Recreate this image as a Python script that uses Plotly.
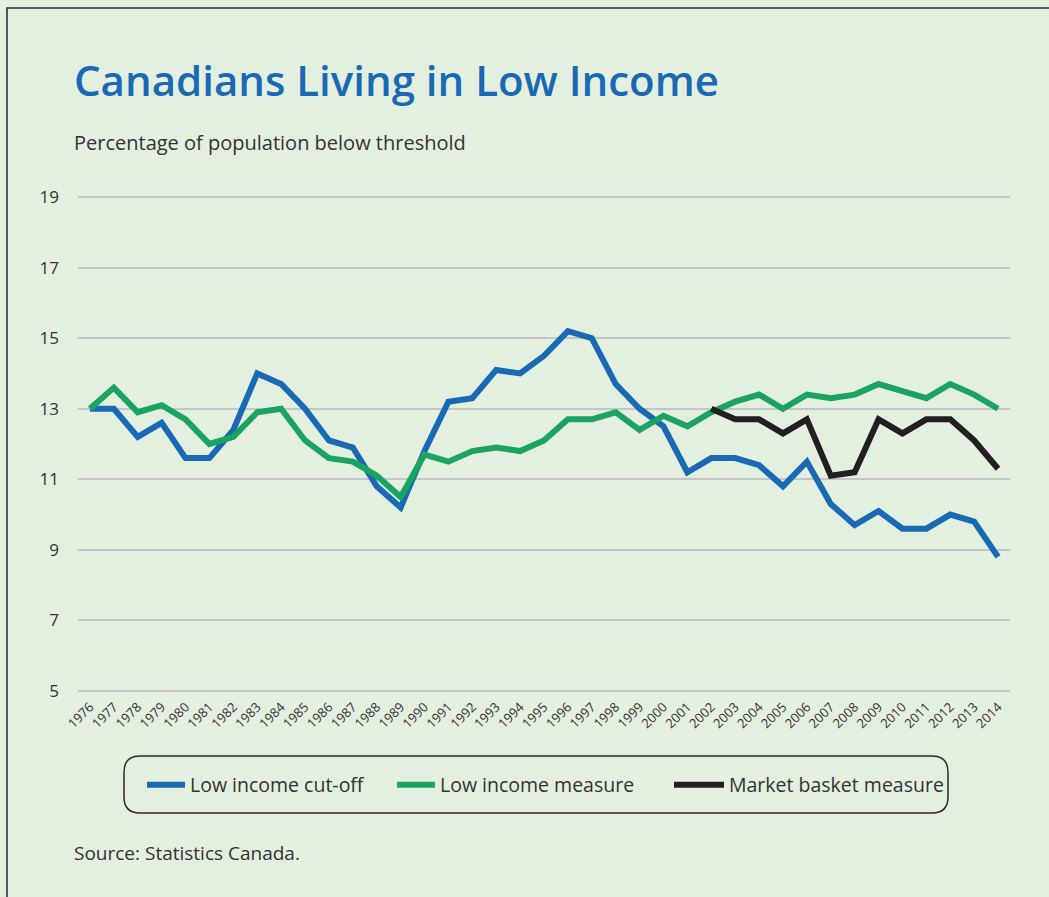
import plotly.graph_objects as go

years = list(range(1976, 2015))
lico = [13.0, 13.0, 12.2, 12.6, 11.6, 11.6, 12.4, 14.0, 13.7, 13.0,
        12.1, 11.9, 10.8, 10.2, 11.8, 13.2, 13.3, 14.1, 14.0, 14.5,
        15.2, 15.0, 13.7, 13.0, 12.5, 11.2, 11.6, 11.6, 11.4, 10.8,
        11.5, 10.3, 9.7, 10.1, 9.6, 9.6, 10.0, 9.8, 8.8]
lim = [13.0, 13.6, 12.9, 13.1, 12.7, 12.0, 12.2, 12.9, 13.0, 12.1,
       11.6, 11.5, 11.1, 10.5, 11.7, 11.5, 11.8, 11.9, 11.8, 12.1,
       12.7, 12.7, 12.9, 12.4, 12.8, 12.5, 12.9, 13.2, 13.4, 13.0,
       13.4, 13.3, 13.4, 13.7, 13.5, 13.3, 13.7, 13.4, 13.0]
mbm_years = list(range(2002, 2015))
mbm = [13.0, 12.7, 12.7, 12.3, 12.7, 11.1, 11.2, 12.7, 12.3, 12.7, 12.7, 12.1, 11.3]
y_ticks = [5, 7, 9, 11, 13, 15, 17, 19]

BG = "#E3EFDF"
BLUE = "#1A69B5"
GREEN = "#1BA461"
BLACK = "#231F20"
TXT = "#333333"
FONT = "Open Sans"

fig = go.Figure()
fig.add_trace(go.Scatter(x=years, y=lico, mode="lines", name="Low income cut-off",
                         line=dict(color=BLUE, width=6), legend="legend"))
fig.add_trace(go.Scatter(x=years, y=lim, mode="lines", name="Low income measure",
                         line=dict(color=GREEN, width=6), legend="legend2"))
fig.add_trace(go.Scatter(x=mbm_years, y=mbm, mode="lines", name="Market basket measure",
                         line=dict(color=BLACK, width=6), legend="legend3"))

# plot area geometry in pixels (range padded slightly so edge gridlines show)
L, R, T, B = 78, 1010, 196, 692
W, H = 1049, 897
pw, ph = R - L, B - T

def px(xp):
    return (xp - L) / pw

def py(yp):
    return (B - yp) / ph

def leg(xpix, iw):
    return dict(orientation="h", x=px(xpix), xanchor="left", y=py(785), yanchor="middle",
                bgcolor="rgba(0,0,0,0)", borderwidth=0, itemwidth=iw,
                font=dict(size=19.5, color=TXT, family=FONT))

fig.update_layout(
    width=W, height=H,
    margin=dict(l=L, r=W - R, t=T, b=H - B, autoexpand=False),
    paper_bgcolor=BG, plot_bgcolor=BG,
    font=dict(family=FONT, color=TXT, size=17),
    showlegend=True,
    legend=leg(142, 38),
    legend2=leg(392, 38),
    legend3=leg(669, 50),
    xaxis=dict(range=[1975.5, 2014.5], tickmode="array", tickvals=years,
               ticktext=[str(y) for y in years], tickangle=-45,
               tickfont=dict(size=13, color=TXT, family=FONT), ticklabelstandoff=4,
               showgrid=False, zeroline=False, showline=False, ticks=""),
    yaxis=dict(range=[4.97, 19.03], tickvals=y_ticks, showgrid=True, gridcolor="#C2C6C6",
               gridwidth=1.5, zeroline=False, showline=False, ticks="",
               tickfont=dict(size=17, color=TXT, family=FONT), ticklabelstandoff=18),
)

# title, subtitle, source
fig.add_annotation(text="Canadians Living in Low Income", xref="paper", yref="paper",
                   x=px(72), y=py(79), xanchor="left", yanchor="middle", showarrow=False,
                   font=dict(size=42, color="#1A69B5", family=FONT, weight=600))
fig.add_annotation(text="Percentage of population below threshold", xref="paper", yref="paper",
                   x=px(72), y=py(143), xanchor="left", yanchor="middle", showarrow=False,
                   font=dict(size=20, color=TXT, family=FONT))
fig.add_annotation(text="Source: Statistics Canada.", xref="paper", yref="paper",
                   x=px(72), y=py(853), xanchor="left", yanchor="middle", showarrow=False,
                   font=dict(size=19, color=TXT, family=FONT))

# outer frame
fig.add_shape(type="rect", xref="paper", yref="paper",
              x0=px(7), x1=px(1100), y0=py(8), y1=py(960),
              line=dict(color="#2A2A2A", width=1.5), fillcolor="rgba(0,0,0,0)", layer="below")

# rounded legend box
x0, x1, y0, y1, r = 124, 948, 756, 813, 16
def P(a, b):
    return f"{px(a):.5f},{py(b):.5f}"
path = (f"M {P(x0 + r, y0)} L {P(x1 - r, y0)} Q {P(x1, y0)} {P(x1, y0 + r)} "
        f"L {P(x1, y1 - r)} Q {P(x1, y1)} {P(x1 - r, y1)} "
        f"L {P(x0 + r, y1)} Q {P(x0, y1)} {P(x0, y1 - r)} "
        f"L {P(x0, y0 + r)} Q {P(x0, y0)} {P(x0 + r, y0)} Z")
fig.add_shape(type="path", xref="paper", yref="paper", path=path,
              line=dict(color="#2A2A2A", width=1.5), fillcolor="rgba(0,0,0,0)")

fig.write_html("out.html", config={"displayModeBar": False},
               post_script="document.body.style.margin='0';document.body.style.background='" + BG + "';")
